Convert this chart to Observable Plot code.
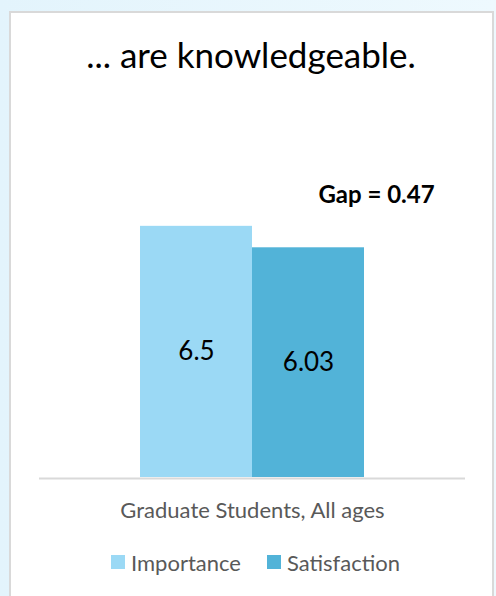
<!DOCTYPE html>
<html><head><meta charset="utf-8">
<script src="https://cdn.jsdelivr.net/npm/d3@7"></script>
<script src="https://cdn.jsdelivr.net/npm/@observablehq/plot@0.6"></script>
<style>
html,body{margin:0;padding:0;}
body{width:496px;height:596px;overflow:hidden;position:relative;background:linear-gradient(90deg,#e3f4fc,#eef9fe);font-family:Lato,sans-serif;}
#panel{position:absolute;left:9px;top:11px;width:485px;height:640px;background:#fff;border:2px solid #d9d9d9;box-sizing:border-box;}
#title{position:absolute;left:0;width:502px;top:37px;text-align:center;font-size:35px;line-height:35px;color:#000;}
#chart{position:absolute;left:0;top:100px;}
#legend{position:absolute;left:0;width:511px;top:551px;height:22px;display:flex;justify-content:center;align-items:center;font-size:22px;color:#595959;}
.item{display:flex;align-items:center;margin:0 13px;}
.sw{width:14px;height:14px;margin-right:6px;}
</style></head>
<body>
<div id="panel"></div>
<div id="title"></div>
<div id="chart"></div>
<div id="legend"></div>
<script>
const titleText = "... are knowledgeable.";
const group = "Graduate Students, All ages";
const series = ["Importance", "Satisfaction"];
const values = [6.5, 6.03];
const colors = ["#9bd9f5", "#52b3d8"];
const gapLabel = "Gap = 0.47";
const yDomain = [1, 7];

document.getElementById("title").textContent = titleText;

const data = series.map((s, i) => ({group, series: s, value: values[i]}));

const chart = Plot.plot({
  width: 496,
  height: 430,
  marginLeft: 39,
  marginRight: 31,
  marginTop: 103,
  marginBottom: 53,
  fx: {padding: 0, label: null},
  x: {domain: series, paddingInner: 0, paddingOuter: 0.9, axis: null},
  y: {domain: yDomain, axis: null},
  color: {domain: series, range: colors},
  style: {background: "transparent", fontFamily: "Lato, sans-serif"},
  marks: [
    Plot.barY(data, {fx: "group", x: "series", y1: yDomain[0], y2: "value", fill: "series"}),
    Plot.ruleY([yDomain[0]], {stroke: "#d9d9d9", strokeWidth: 2, dy: 1}),
    Plot.text(data, {fx: "group", x: "series", y: d => (yDomain[0] + d.value) / 2, text: d => String(d.value), fontSize: 26, fill: "#000"}),
    Plot.text([{group, series: series[1], label: gapLabel}], {fx: "group", x: "series", y: yDomain[1], dx: 68, dy: -8, text: "label", fontSize: 24, fontWeight: "bold", fill: "#000"}),
    Plot.axisFx({anchor: "bottom", tickSize: 0, tickPadding: 25, fontSize: 22, fill: "#595959", label: null})
  ]
});
document.getElementById("chart").appendChild(chart);

const legend = document.getElementById("legend");
series.forEach((s, i) => {
  const item = document.createElement("div");
  item.className = "item";
  const sw = document.createElement("div");
  sw.className = "sw";
  sw.style.background = colors[i];
  const t = document.createElement("span");
  t.textContent = s;
  item.appendChild(sw);
  item.appendChild(t);
  legend.appendChild(item);
});
</script>
</body></html>
